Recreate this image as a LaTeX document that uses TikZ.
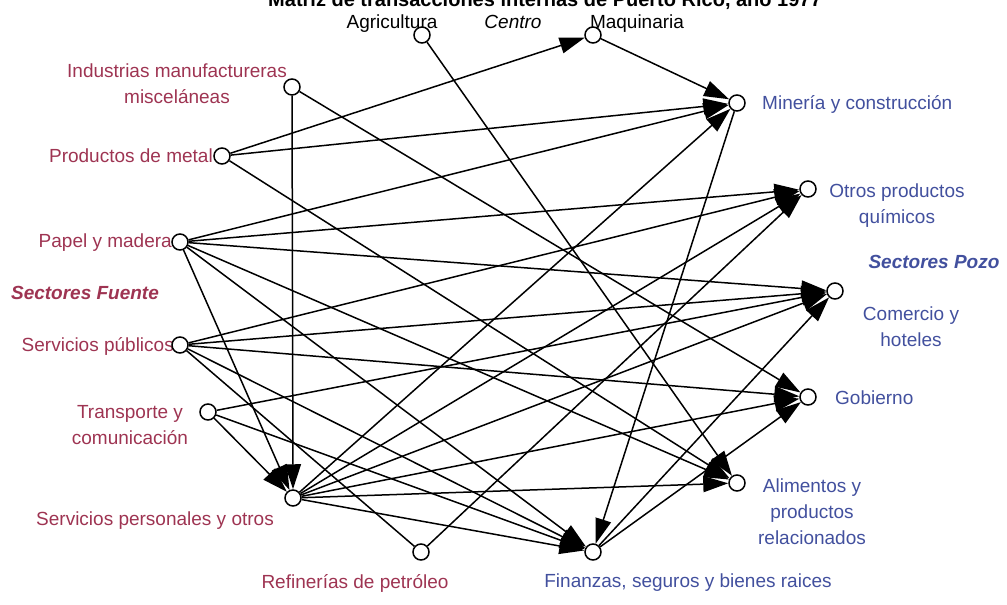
\documentclass[tikz,border=0pt]{standalone}
\usepackage{fontspec}
\setmainfont{Liberation Sans}
\usetikzlibrary{arrows.meta}
\definecolor{srcred}{RGB}{158,52,82}
\definecolor{sinkblue}{RGB}{66,80,158}
\begin{document}
\begin{tikzpicture}[x=1pt,y=-1pt,
  sector/.style={circle,draw=black,fill=white,line width=1.5pt,minimum size=16pt,inner sep=0pt},
  flow/.style={line width=1.5pt,-{Triangle[length=25pt,width=16pt]}},
  link/.style={line width=1.5pt},
  lbl/.style={font=\fontsize{19}{26}\selectfont,inner sep=0pt,align=center},
  srclbl/.style={lbl,text=srcred},
  sinklbl/.style={lbl,text=sinkblue},
  grouplbl/.style={font=\fontsize{19}{26}\selectfont\bfseries\itshape,inner sep=0pt}]
\useasboundingbox (0,0) rectangle (1007,605);
\clip (0,0) rectangle (1007,605);

% title, cut by the top edge
\node[font=\fontsize{20}{22}\selectfont\bfseries,anchor=base,inner sep=0pt] (title) at (545,6)
  {Matriz de transacciones internas de Puerto Rico, año 1977};

% labels
\node[lbl,anchor=base] (lA) at (392,28) {Agricultura};
\node[lbl,anchor=base,font=\fontsize{19}{26}\selectfont\itshape] (lCentro) at (513,28) {Centro};
\node[lbl,anchor=base] (lM) at (637,28) {Maquinaria};
\node[srclbl] (lI) at (177,84) {Industrias manufactureras\\misceláneas};
\node[srclbl,anchor=east] (lPM) at (213,156) {Productos de metal};
\node[srclbl,anchor=east] (lPP) at (172,243) {Papel y madera};
\node[grouplbl,text=srcred] (lFuente) at (85,293) {Sectores Fuente};
\node[srclbl,anchor=east] (lSP) at (174,346) {Servicios públicos};
\node[srclbl] (lT) at (130,425) {Transporte y\\comunicación};
\node[srclbl] (lSPer) at (155,521) {Servicios personales y otros};
\node[srclbl] (lR) at (355,583) {Refinerías de petróleo};
\node[sinklbl] (lF) at (688,583) {Finanzas, seguros y bienes raices};
\node[sinklbl] (lAl) at (812,512) {Alimentos y\\productos\\relacionados};
\node[sinklbl,anchor=west] (lG) at (835,398) {Gobierno};
\node[sinklbl] (lC) at (911,327) {Comercio y\\hoteles};
\node[grouplbl,text=sinkblue] (lPozo) at (934,262) {Sectores Pozo};
\node[sinklbl] (lO) at (897,206) {Otros productos\\químicos};
\node[sinklbl,anchor=west] (lMi) at (762,104) {Minería y construcción};

% sectors
\node[sector] (A)    at (422,35)  {};
\node[sector] (M)    at (593,35)  {};
\node[sector] (I)    at (292,87)  {};
\node[sector] (PM)   at (222,156) {};
\node[sector] (PP)   at (180,242) {};
\node[sector] (SP)   at (180,345) {};
\node[sector] (T)    at (208,412) {};
\node[sector] (SPer) at (293,498) {};
\node[sector] (R)    at (421,552) {};
\node[sector] (F)    at (593,552) {};
\node[sector] (Al)   at (737,483) {};
\node[sector] (G)    at (808,397) {};
\node[sector] (C)    at (835,291) {};
\node[sector] (O)    at (808,189) {};
\node[sector] (Mi)   at (737,103) {};

% flows
\draw[flow] (I) -- (SPer);
\draw[flow] (I) -- (G);
\draw[flow] (PM) -- (M);
\draw[flow] (PM) -- (Mi);
\draw[flow] (PM) -- (Al);
\draw[flow] (A) -- (Al);
\draw[flow] (M) -- (Mi);
\draw[flow] (Mi) -- (F);
\draw[flow] (PP) -- (Mi);
\draw[flow] (PP) -- (O);
\draw[flow] (PP) -- (C);
\draw[flow] (PP) -- (Al);
\draw[flow] (PP) -- (F);
\draw[flow] (PP) -- (SPer);
\draw[flow] (SP) -- (O);
\draw[flow] (SP) -- (C);
\draw[flow] (SP) -- (G);
\draw[flow] (SP) -- (F);
\draw[link] (SP) -- (R);
\draw[flow] (T) -- (C);
\draw[flow] (T) -- (F);
\draw[flow] (T) -- (SPer);
\draw[flow] (SPer) -- (Mi);
\draw[flow] (SPer) -- (O);
\draw[flow] (SPer) -- (C);
\draw[flow] (SPer) -- (G);
\draw[flow] (SPer) -- (Al);
\draw[flow] (SPer) -- (F);
\draw[flow] (R) -- (O);
\draw[flow] (F) -- (C);
\draw[flow] (F) -- (G);
\end{tikzpicture}
\end{document}
